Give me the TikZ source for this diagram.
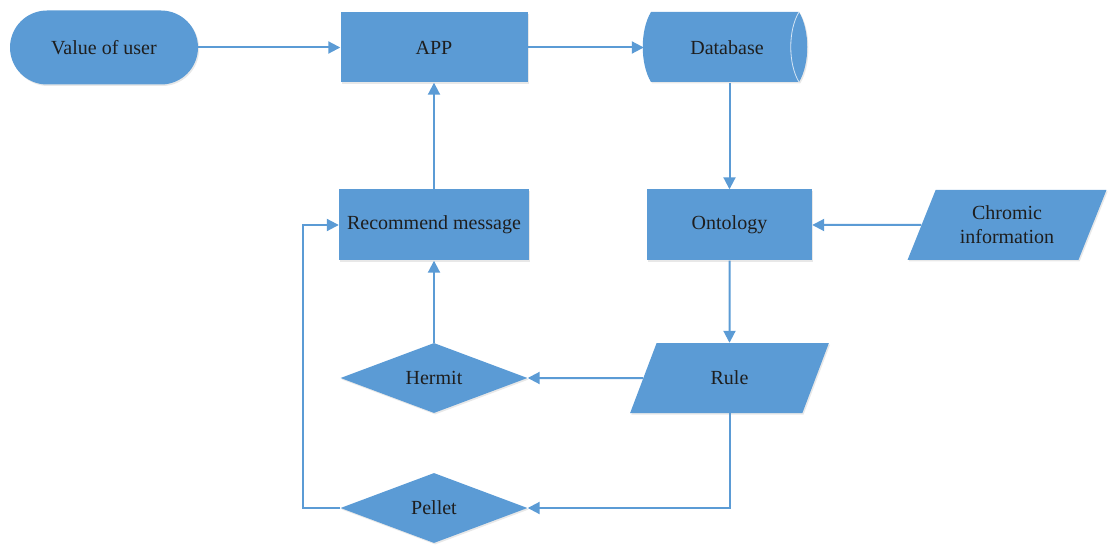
\documentclass[tikz,border=0pt]{standalone}
\usepackage{fontspec}
\setmainfont{Liberation Serif}
\newfontfamily\boxfont{Liberation Serif}
\usetikzlibrary{shapes.geometric,shapes.misc,arrows.meta,shadows}

\definecolor{boxblue}{HTML}{5B9BD5}
\definecolor{inkgray}{HTML}{1E1E1E}

\tikzset{
  base/.style={fill=boxblue, draw=none, text=inkgray, inner sep=0pt,
    font=\boxfont\fontsize{20}{24}\selectfont, align=center,
    drop shadow={shadow xshift=1.2pt, shadow yshift=-1.5pt, opacity=0.18, fill=black!50}},
  procbox/.style={base, rectangle, minimum width=188pt, minimum height=71pt},
  termbox/.style={base, rounded rectangle, minimum width=188pt, minimum height=74pt},
  decbox/.style={base, diamond, aspect=2.67, minimum width=187pt, minimum height=70pt},
  iobox/.style={base, trapezium, trapezium left angle=64, trapezium right angle=116,
    trapezium stretches=true, minimum width=199pt, minimum height=70pt},
  link/.style={draw=boxblue, line width=2pt,
    -{Triangle[length=12pt,width=12pt]}},
}

\begin{document}
\begin{tikzpicture}[x=1pt, y=-1pt]
  \useasboundingbox (0,0) rectangle (1111,545);

  % terminal and process boxes
  \node[termbox] (val) at (104,47.5) {Value of user};
  \node[procbox, minimum width=187pt, minimum height=70pt] (app) at (434,47.5) {APP};
  \node[procbox, minimum width=165pt] (onto) at (729.5,225) {Ontology};
  \node[procbox, minimum width=190pt] (rec) at (434,225) {Recommend message};

  % stored data (horizontal drum)
  \path[fill=boxblue, drop shadow={shadow xshift=1.2pt, shadow yshift=-1.5pt, opacity=0.18, fill=black!50}]
    (651,12) -- (799,12) .. controls (810,30) and (810,64) .. (799,82)
    -- (651,82) .. controls (640,64) and (640,30) .. (651,12) -- cycle;
  \draw[white!75!boxblue, line width=0.8pt]
    (799,12) .. controls (788,30) and (788,64) .. (799,82);
  \node[text=inkgray, font=\boxfont\fontsize{20}{24}\selectfont, inner sep=0pt,
    minimum width=166pt, minimum height=70pt] (db) at (727,47.5) {Database};

  % input / output boxes
  \node[iobox] (chrom) at (1007,225) {Chromic\\information};
  \node[iobox] (rule) at (729.5,378) {Rule};

  % decisions
  \node[decbox] (herm) at (434,378) {Hermit};
  \node[decbox] (pel) at (434,508) {Pellet};

  % connectors
  \draw[link] (val.east) -- (app.west);
  \draw[link] (app.east) -- (db.west);
  \draw[link] (onto.north |- db.south) -- (onto.north);
  \draw[link] (chrom) -- (onto);
  \draw[link] (onto.south) -- (rule.north);
  \draw[link] (rule) -- (herm);
  \draw[link] (herm.north) -- (rec.south);
  \draw[link] (rec.north) -- (app.south);
  \draw[link] (rule.south) |- (pel.east);
  \draw[link] (pel.west) -| ([xshift=-36pt]rec.west) -- (rec.west);
\end{tikzpicture}
\end{document}
